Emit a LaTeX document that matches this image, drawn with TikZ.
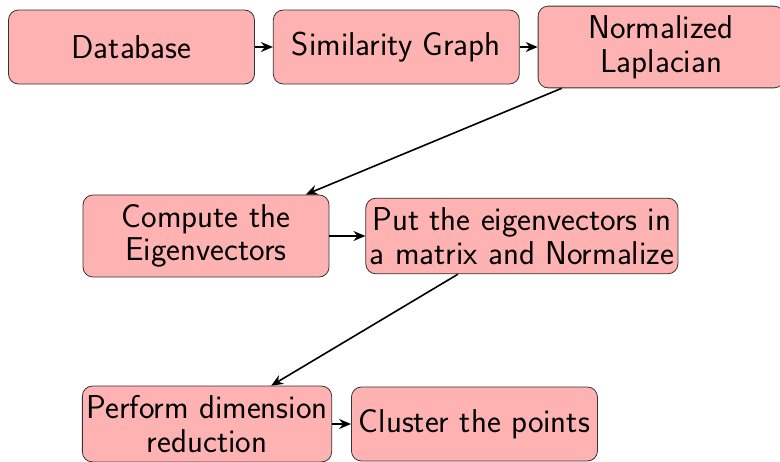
\documentclass[tikz,border=0pt]{standalone}
\usetikzlibrary{arrows.meta, positioning}

\begin{document}
\begin{tikzpicture}[
    x=0.5pt, y=-0.5pt,
    stage/.style={draw=black!80, fill=red!30, rounded corners=5pt,
                  minimum width=123pt, minimum height=37pt,
                  inner xsep=2pt, inner ysep=4.7pt, align=center,
                  font=\sffamily\fontsize{16.5}{16.8}\selectfont},
    flow/.style={thick, -{Stealth[length=6pt, width=5pt, inset=2pt]}},
  ]
  \useasboundingbox (0,0) rectangle (780,461);

  % ===== first row =====
  \node[stage] (db) at (131.5,47) {Database};
  \node[stage, right=9pt of db] (simgraph) {Similarity Graph};
  \node[stage, right=9pt of simgraph] (laplace) {Normalized\\Laplacian};

  % ===== second row =====
  \node[stage] (eigen) at (206,236) {Compute the\\Eigenvectors};
  \node[stage, right=18pt of eigen] (normrows) {Put the eigenvectors in\\a matrix and Normalize};

  % ===== third row =====
  \node[stage] (reduce) at (207,424) {Perform dimension\\reduction};
  \node[stage, right=9.5pt of reduce] (cluster) {Cluster the points};

  \draw[flow] (db) -- (simgraph);
  \draw[flow] (simgraph) -- (laplace);
  \draw[flow] (laplace) -- (eigen);
  \draw[flow] (eigen) -- (normrows);
  \draw[flow] (normrows) -- (reduce);
  \draw[flow] (reduce) -- (cluster);
\end{tikzpicture}
\end{document}
